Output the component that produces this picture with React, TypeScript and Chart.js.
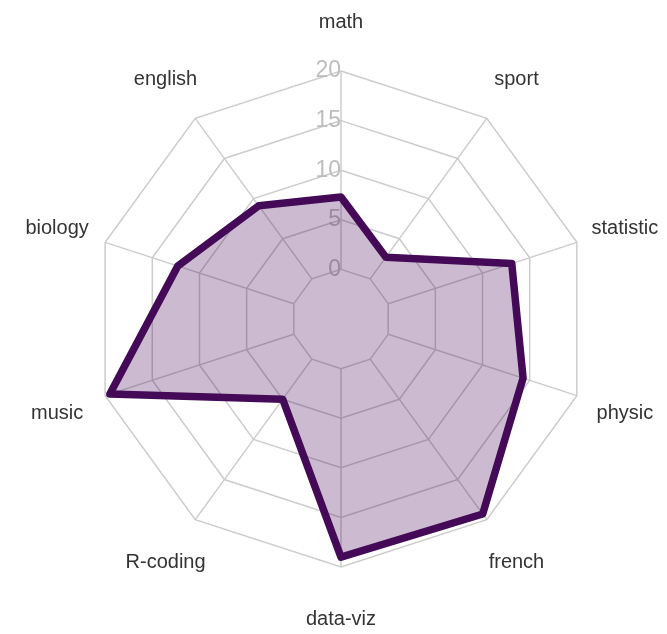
import React, { useEffect, useRef } from 'react';
import { Chart, registerables } from 'chart.js';

Chart.register(...registerables);

const subjects = ['math', 'sport', 'statistic', 'physic', 'french', 'data-viz', 'R-coding', 'music', 'biology', 'english'];
const scores = [7.3, 2.7, 13.1, 14.3, 19.3, 19, 5, 19.5, 12.3, 9.1];
const tickValues = [0, 5, 10, 15, 20];
const scaleMin = -5;
const scaleMax = 20;

const FIG = '\u2007';

const spokesPlugin = {
  id: 'spokes',
  beforeDatasetsDraw(chart: any) {
    const scale = chart.scales.r;
    const ctx = chart.ctx;
    ctx.save();
    ctx.strokeStyle = '#cccccc';
    ctx.lineWidth = 1.5;
    const inner = scale.getDistanceFromCenterForValue(tickValues[0]);
    const outer = scale.getDistanceFromCenterForValue(tickValues[tickValues.length - 1]);
    for (let i = 0; i < subjects.length; i++) {
      const a = scale.getPointPosition(i, inner);
      const b = scale.getPointPosition(i, outer);
      ctx.beginPath();
      ctx.moveTo(a.x, a.y);
      ctx.lineTo(b.x, b.y);
      ctx.stroke();
    }
    ctx.restore();
  },
};

const labelsPlugin = {
  id: 'axisLabels',
  afterDraw(chart: any) {
    const scale = chart.scales.r;
    const ctx = chart.ctx;
    ctx.save();
    ctx.font = '20px "Liberation Sans", Arial, sans-serif';
    ctx.fillStyle = '#333333';
    ctx.textAlign = 'center';
    ctx.textBaseline = 'middle';
    for (let i = 0; i < subjects.length; i++) {
      const p = scale.getPointPosition(i, scale.drawingArea + 50.5);
      ctx.fillText(subjects[i], p.x, p.y + 2);
    }
    ctx.restore();
  },
};

export default function App() {
  const ref = useRef<HTMLCanvasElement | null>(null);
  useEffect(() => {
    if (!ref.current) return;
    const chart = new Chart(ref.current, {
      type: 'radar',
      data: {
        labels: subjects,
        datasets: [
          {
            data: scores,
            borderColor: '#440a57',
            backgroundColor: 'rgba(68, 1, 84, 0.27)',
            borderWidth: 7.5,
            borderJoinStyle: 'round',
            pointRadius: 0,
            pointHoverRadius: 0,
            fill: 'start',
          },
        ],
      },
      options: {
        animation: false,
        responsive: true,
        maintainAspectRatio: false,
        layout: { padding: { left: 79, right: 64, top: 57, bottom: 53 } },
        plugins: { legend: { display: false }, tooltip: { enabled: false } },
        scales: {
          r: {
            min: scaleMin,
            max: scaleMax,
            ticks: {
              stepSize: 5,
              showLabelBackdrop: false,
              color: '#bdbdbd',
              font: { size: 23, family: '"Liberation Sans", Arial, sans-serif' },
              callback: (v: any) => {
                const n = Number(v);
                if (!tickValues.includes(n)) return '';
                const s = String(n);
                return s + FIG.repeat(s.length);
              },
            },
            grid: { color: '#cccccc', lineWidth: 1.5 },
            angleLines: { display: false },
            pointLabels: { display: false },
          },
        },
      },
      plugins: [spokesPlugin, labelsPlugin],
    });
    return () => chart.destroy();
  }, []);
  return (
    <div style={{ position: 'fixed', left: 0, top: 0, width: 667, height: 634, background: '#fff' }}>
      <canvas ref={ref} />
    </div>
  );
}
